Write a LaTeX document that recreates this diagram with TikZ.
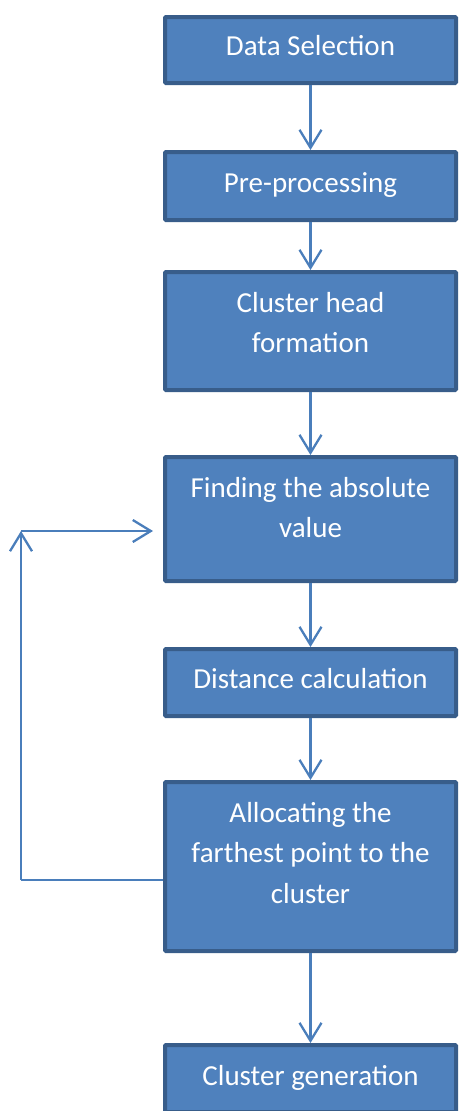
\documentclass[tikz,border=0pt]{standalone}
\usepackage{fontspec}
\setmainfont{Carlito}
\usetikzlibrary{arrows.meta}
\definecolor{boxfill}{HTML}{4F81BD}
\definecolor{boxedge}{HTML}{385D8A}
\definecolor{linecol}{HTML}{4A7EBB}
\begin{document}
\begin{tikzpicture}[x=1pt,y=-1pt,
  box/.style={rectangle, draw=boxedge, fill=boxfill, line width=4pt,
              minimum width=291pt, inner sep=0pt, rounded corners=1pt},
  txt/.style={text=white, font=\fontsize{29}{40.5}\selectfont, align=center,
              inner sep=0pt, anchor=north},
  conn/.style={draw=linecol, line width=2.3pt,
               -{Straight Barb[length=18pt,width=22pt]}},
  plain/.style={draw=linecol, line width=2.3pt}]
\useasboundingbox (0,0) rectangle (458,1111);
% boxes
\node[box, minimum height=66pt]  (b1) at (310.5,50)     {};
\node[box, minimum height=68pt]  (b2) at (310.5,186)    {};
\node[box, minimum height=118pt] (b3) at (310.5,331)    {};
\node[box, minimum height=124pt] (b4) at (310.5,519)    {};
\node[box, minimum height=67pt]  (b5) at (310.5,682.5)  {};
\node[box, minimum height=169pt] (b6) at (310.5,866.5)  {};
\node[box, minimum height=67pt]  (b7) at (310.5,1078.5) {};
% texts
\node[txt] (t1) at (310.5,26.65)  {\strut Data Selection};
\node[txt] (t2) at (310.5,163.65) {\strut Pre-processing};
\node[txt] (t3) at (310.5,283.65) {\strut Cluster head\\\strut formation};
\node[txt] (t4) at (310.5,468.65) {\strut Finding the absolute\\\strut value};
\node[txt] (t5) at (310.5,659.65) {\strut Distance calculation};
\node[txt] (t6) at (310.5,793.65) {\strut Allocating the\\\strut farthest point to the\\\strut cluster};
\node[txt] (t7) at (310.5,1056.65) {\strut Cluster generation};
% connectors
\draw[conn] (b1.south) -- (b2.north);
\draw[conn] (b2.south) -- (b3.north);
\draw[conn] (b3.south) -- (b4.north);
\draw[conn] (b4.south) -- (b5.north);
\draw[conn] (b5.south) -- (b6.north);
\draw[conn] (b6.south) -- (b7.north);
% feedback loop
\coordinate (c1) at (21,880);
\coordinate (c2) at (21,531);
\draw[plain] (c1 -| b6.west) -- (c1);
\draw[conn] (c1) -- (c2);
\draw[conn, shorten >=10pt] (c2) -- (c2 -| b4.west);
\end{tikzpicture}
\end{document}
